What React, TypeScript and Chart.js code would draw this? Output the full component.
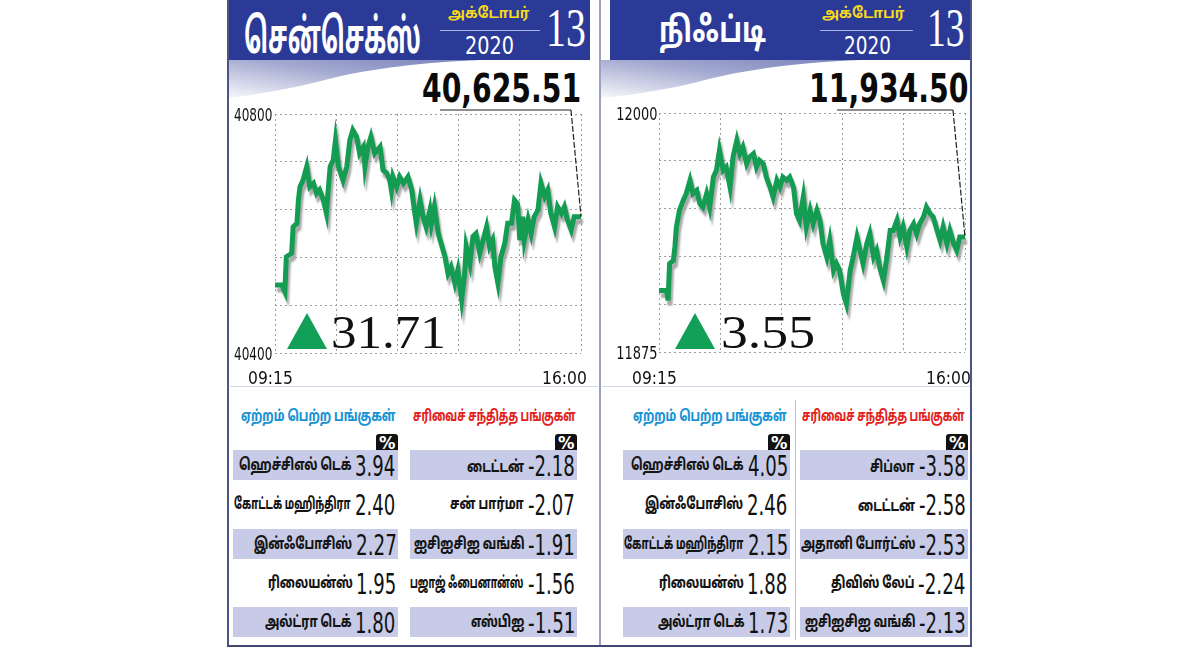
import React, { useEffect, useRef } from "react";
import { Chart, registerables } from "chart.js";
Chart.register(...registerables);

// ---------------- DATA ----------------
const sensexMinutes = [0, 9, 13, 15, 22, 24, 29, 31, 33, 37, 42, 46, 51, 55, 59, 64, 68, 70, 73, 77, 80, 84, 90, 95, 99, 103, 108, 112, 117, 119, 123, 127, 132, 139, 143, 148, 152, 154, 156, 161, 165, 170, 176, 181, 185, 187, 192, 196, 200, 205, 207, 211, 216, 220, 225, 229, 233, 238, 242, 247, 251, 253, 258, 262, 266, 271, 280, 284, 288, 291, 295, 299, 304, 308, 313, 317, 321, 324, 328, 330, 335, 339, 343, 348, 350, 352, 357, 361, 365, 370, 374, 379, 383, 387, 392, 396, 405];
const sensexValues = [40514, 40514, 40503, 40561, 40567, 40611, 40617, 40656, 40678, 40689, 40712, 40678, 40684, 40667, 40673, 40656, 40634, 40667, 40712, 40723, 40756, 40712, 40689, 40712, 40756, 40773, 40762, 40734, 40745, 40712, 40745, 40762, 40734, 40745, 40706, 40701, 40689, 40673, 40695, 40678, 40695, 40684, 40695, 40673, 40634, 40617, 40656, 40628, 40611, 40639, 40617, 40645, 40600, 40583, 40561, 40533, 40544, 40517, 40539, 40489, 40533, 40578, 40550, 40595, 40600, 40567, 40611, 40578, 40589, 40544, 40517, 40561, 40583, 40617, 40617, 40656, 40650, 40589, 40628, 40589, 40623, 40600, 40628, 40639, 40662, 40684, 40662, 40673, 40634, 40611, 40645, 40634, 40645, 40623, 40606, 40628, 40628];

const niftyMinutes = [0, 10, 12, 14, 19, 21, 23, 27, 32, 36, 41, 45, 50, 54, 58, 63, 67, 72, 76, 80, 85, 89, 94, 98, 103, 107, 111, 116, 120, 125, 129, 133, 138, 142, 147, 151, 156, 160, 164, 169, 173, 178, 182, 186, 191, 195, 200, 204, 209, 213, 217, 222, 226, 231, 235, 239, 244, 248, 253, 257, 262, 266, 270, 275, 279, 284, 288, 292, 297, 301, 306, 310, 315, 319, 323, 328, 332, 337, 341, 345, 350, 354, 359, 363, 368, 372, 376, 381, 385, 390, 394, 398, 405];
const niftyValues = [11907.2, 11907.2, 11902.0, 11921.2, 11922.9, 11929.9, 11940.4, 11949.1, 11954.3, 11957.8, 11964.8, 11957.8, 11959.5, 11952.6, 11950.8, 11957.8, 11950.8, 11966.5, 11970.0, 11980.5, 11970.0, 11971.7, 11961.3, 11977.0, 11985.7, 11978.7, 11982.2, 11973.5, 11977.0, 11978.7, 11971.7, 11975.2, 11973.5, 11966.5, 11961.3, 11956.1, 11964.8, 11961.3, 11966.5, 11964.8, 11966.5, 11961.3, 11947.3, 11943.9, 11956.1, 11940.4, 11949.1, 11942.1, 11949.1, 11943.9, 11931.7, 11924.7, 11933.4, 11917.7, 11921.2, 11917.7, 11905.5, 11900.3, 11917.7, 11924.7, 11935.1, 11928.2, 11921.2, 11931.7, 11936.9, 11924.7, 11928.2, 11919.4, 11912.5, 11922.9, 11938.6, 11938.6, 11943.9, 11935.1, 11940.4, 11929.9, 11938.6, 11942.1, 11936.9, 11942.1, 11945.6, 11950.8, 11947.3, 11945.6, 11938.6, 11933.4, 11940.4, 11931.7, 11938.6, 11931.7, 11928.2, 11935.1, 11935.1];

const sensexYTicks = [40800, 40400];
const niftyYTicks = [12000, 11875];
const timeLabels = ["09:15", "16:00"];

const sensexTitle = "சென்செக்ஸ்";
const niftyTitle = "நிஃப்டி";
const monthLabel = "அக்டோபர்";
const yearLabel = "2020";
const dayLabel = "13";
const sensexClose = "40,625.51";
const niftyClose = "11,934.50";
const sensexChange = "31.71";
const niftyChange = "3.55";

const gainersHeader = "ஏற்றம் பெற்ற பங்குகள்";
const losersHeader = "சரிவைச் சந்தித்த பங்குகள்";

const sensexGainerNames = ["ஹெச்சிஎல் டெக்", "கோட்டக் மஹிந்திரா", "இன்ஃபோசிஸ்", "ரிலையன்ஸ்", "அல்ட்ரா டெக்"];
const sensexGainerPct = ["3.94", "2.40", "2.27", "1.95", "1.80"];
const sensexLoserNames = ["டைட்டன்", "சன் பார்மா", "ஐசிஐசிஐ வங்கி", "பஜாஜ் ஃபைனான்ஸ்", "எஸ்பிஐ"];
const sensexLoserPct = ["-2.18", "-2.07", "-1.91", "-1.56", "-1.51"];

const niftyGainerNames = ["ஹெச்சிஎல் டெக்", "இன்ஃபோசிஸ்", "கோட்டக் மஹிந்திரா", "ரிலையன்ஸ்", "அல்ட்ரா டெக்"];
const niftyGainerPct = ["4.05", "2.46", "2.15", "1.88", "1.73"];
const niftyLoserNames = ["சிப்லா", "டைட்டன்", "அதானி போர்ட்ஸ்", "திவிஸ் லேப்", "ஐசிஐசிஐ வங்கி"];
const niftyLoserPct = ["-3.58", "-2.58", "-2.53", "-2.24", "-2.13"];

// ---------------- STYLE ----------------
const NARROW = '"Liberation Sans Narrow", "DejaVu Sans Condensed", "Liberation Sans", sans-serif';
const SERIF = '"Liberation Serif", "DejaVu Serif", serif';
const TAMIL = '"Noto Sans Tamil", "Lohit Tamil", "Noto Sans", "DejaVu Sans", sans-serif';
const HEADER_BLUE = "#2b3a97";
const GREEN = "#139c52";
const TRI_GREEN = "#12a058";
const ROW_BG = "#c7cbe8";

let _mc: CanvasRenderingContext2D | null = null;
function mctx() {
  if (!_mc) _mc = document.createElement("canvas").getContext("2d");
  return _mc!;
}
function metrics(text: string, font: string) {
  const c = mctx();
  c.font = font;
  return c.measureText(text);
}

type TxtProps = {
  text: string;
  family: string;
  weight?: string | number;
  color: string;
  top: number;
  bottom: number;
  x1: number;
  x2: number;
  align?: "left" | "right" | "center";
  fit?: boolean;
  size?: number;
  sx?: number;
};

function layoutTxt(p: TxtProps) {
  const weight = p.weight ?? "normal";
  let F = p.size ?? 0;
  if (!p.size) {
    const m0 = metrics(p.text, `${weight} 100px ${p.family}`);
    const h = m0.actualBoundingBoxAscent + m0.actualBoundingBoxDescent;
    F = ((p.bottom - p.top) / h) * 100;
  }
  const font = `${weight} ${F}px ${p.family}`;
  const m = metrics(p.text, font);
  const asc = m.actualBoundingBoxAscent;
  const desc = m.actualBoundingBoxDescent;
  const fa = m.fontBoundingBoxAscent;
  const fd = m.fontBoundingBoxDescent;
  const baseline = p.size ? (p.top + p.bottom) / 2 + (asc - desc) / 2 : p.top + asc;
  const inkL = m.actualBoundingBoxLeft;
  const inkR = m.actualBoundingBoxRight;
  const sx = p.fit ? (p.x2 - p.x1) / (inkL + inkR) : p.sx ?? 1;
  let left: number;
  const align = p.align ?? "left";
  if (p.fit) left = p.x1 + inkL * sx;
  else if (align === "right") left = p.x2 - inkR * sx;
  else if (align === "center") left = (p.x1 + p.x2) / 2 - ((inkR - inkL) / 2) * sx;
  else left = p.x1 + inkL * sx;
  return { F, weight, left, baseline, fa, fd, sx, inkWidth: (inkL + inkR) * sx, naturalInk: inkL + inkR };
}

function Txt(p: TxtProps) {
  const l = layoutTxt(p);
  return (
    <span
      style={{
        position: "absolute",
        left: l.left,
        top: l.baseline - l.fa,
        fontFamily: p.family,
        fontSize: l.F,
        fontWeight: l.weight as any,
        lineHeight: `${l.fa + l.fd}px`,
        height: l.fa + l.fd,
        color: p.color,
        whiteSpace: "pre",
        transform: `scaleX(${l.sx})`,
        transformOrigin: "0 0",
      }}
    >
      {p.text}
    </span>
  );
}

function drawFitText(ctx: CanvasRenderingContext2D, text: string, x1: number, x2: number, top: number, bottom: number, family: string, color: string) {
  ctx.save();
  ctx.font = `normal 100px ${family}`;
  let m = ctx.measureText(text);
  const F = ((bottom - top) / (m.actualBoundingBoxAscent + m.actualBoundingBoxDescent)) * 100;
  ctx.font = `normal ${F}px ${family}`;
  m = ctx.measureText(text);
  const sx = (x2 - x1) / (m.actualBoundingBoxLeft + m.actualBoundingBoxRight);
  ctx.translate(x1 + m.actualBoundingBoxLeft * sx, top + m.actualBoundingBoxAscent);
  ctx.scale(sx, 1);
  ctx.fillStyle = color;
  ctx.textAlign = "left";
  ctx.textBaseline = "alphabetic";
  ctx.fillText(text, 0, 0);
  ctx.restore();
}

type Box = { left: number; top: number; width: number; height: number };
type Area = { left: number; right: number; top: number; bottom: number };

function PriceChart(props: {
  minutes: number[];
  values: number[];
  yTicks: number[];
  yStep: number;
  box: Box;
  area: Area;
  yLabelX: [number, number];
  pointer: { x1: number; x2: number; y: number };
}) {
  const ref = useRef<HTMLCanvasElement>(null);
  useEffect(() => {
    const { minutes, values, yTicks, yStep, box, area, yLabelX, pointer } = props;
    const yMax = Math.max(...yTicks);
    const yMin = Math.min(...yTicks);
    const overlay = {
      id: "overlay",
      beforeDatasetsDraw(chart: any) {
        const ctx = chart.ctx as CanvasRenderingContext2D;
        ctx.save();
        ctx.shadowColor = "rgba(160,160,160,0.9)";
        ctx.shadowOffsetX = 2;
        ctx.shadowOffsetY = 5;
        ctx.shadowBlur = 2;
      },
      afterDatasetsDraw(chart: any) {
        chart.ctx.restore();
      },
      afterDraw(chart: any) {
        const ctx = chart.ctx as CanvasRenderingContext2D;
        const ys = chart.scales.y;
        const xs = chart.scales.x;
        yTicks.forEach((v) => {
          const g = ys.getPixelForValue(v);
          drawFitText(ctx, String(v), yLabelX[0] - box.left, yLabelX[1] - box.left, g - 6, g + 8, NARROW, "#111");
        });
        const xl = xs.getPixelForValue(xs.min);
        const xr = xs.getPixelForValue(xs.max);
        const lt = 371 - box.top;
        const lb = 384 - box.top;
        drawFitText(ctx, timeLabels[0], xl - 26, xl + 17, lt, lb, NARROW, "#111");
        drawFitText(ctx, timeLabels[1], xr - 38, xr + 5, lt, lb, NARROW, "#111");
        const meta = chart.getDatasetMeta(0);
        const last = meta.data[meta.data.length - 1];
        ctx.save();
        ctx.strokeStyle = "#222";
        ctx.lineWidth = 1.2;
        ctx.beginPath();
        ctx.moveTo(pointer.x1 - box.left, pointer.y - box.top);
        ctx.lineTo(pointer.x2 - box.left, pointer.y - box.top);
        ctx.stroke();
        ctx.setLineDash([6, 2]);
        ctx.beginPath();
        ctx.moveTo(pointer.x2 - box.left, pointer.y - box.top);
        ctx.lineTo(last.x, last.y);
        ctx.stroke();
        ctx.restore();
      },
    };
    const gridOpts = { color: "#9c9c9c", lineWidth: 1, drawTicks: false };
    const borderOpts = { display: false, dash: [2, 3] };
    const chart = new Chart(ref.current!, {
      type: "line",
      data: {
        datasets: [
          {
            data: minutes.map((m, i) => ({ x: m, y: values[i] })),
            borderColor: GREEN,
            borderWidth: 5,
            pointRadius: 0,
            tension: 0,
            borderJoinStyle: "miter",
            borderCapStyle: "butt",
            clip: false as any,
          },
        ],
      },
      options: {
        animation: false,
        responsive: false,
        maintainAspectRatio: false,
        events: [],
        layout: {
          padding: {
            left: area.left - box.left,
            top: area.top - box.top,
            right: box.left + box.width - area.right,
            bottom: box.top + box.height - area.bottom,
          },
        },
        plugins: { legend: { display: false }, tooltip: { enabled: false } },
        scales: {
          x: {
            type: "linear",
            min: 0,
            max: 405,
            ticks: { display: false, stepSize: 81 },
            grid: gridOpts,
            border: borderOpts,
          },
          y: {
            type: "linear",
            min: yMin,
            max: yMax,
            ticks: { display: false, stepSize: yStep },
            grid: gridOpts,
            border: borderOpts,
          },
        },
      },
      plugins: [overlay as any],
    });
    return () => chart.destroy();
  }, []);
  const b = props.box;
  return (
    <canvas
      ref={ref}
      width={b.width}
      height={b.height}
      style={{ position: "absolute", left: b.left, top: b.top, width: b.width, height: b.height }}
    />
  );
}

function abs(left: number, top: number, width: number, height: number, extra: any = {}) {
  return { position: "absolute" as const, left, top, width, height, ...extra };
}

function Header(p: { x1: number; x2: number; title: string; titleX: [number, number]; monthX: [number, number]; lineX: [number, number]; yearX: [number, number]; dayX: [number, number]; swoosh: string; gid: string }) {
  return (
    <>
      <div style={abs(p.x1, 0, p.x2 - p.x1, 60, { background: HEADER_BLUE })} />
      <svg style={abs(0, 0, 1200, 120)} width={1200} height={120}>
        <defs>
          <linearGradient id={p.gid} x1="0" y1="1" x2="1" y2="0">
            <stop offset="0" stopColor="#f6f7fb" />
            <stop offset="0.55" stopColor="#a3a9d0" />
            <stop offset="1" stopColor="#7a83bb" />
          </linearGradient>
        </defs>
        <path d={p.swoosh} fill={`url(#${p.gid})`} />
      </svg>
      <Txt text={p.title} family={TAMIL} weight="bold" color="#fff" top={12} bottom={53} x1={p.titleX[0]} x2={p.titleX[1]} fit />
      <Txt text={monthLabel} family={TAMIL} weight="bold" color="#f8da1c" top={5} bottom={21} x1={p.monthX[0]} x2={p.monthX[1]} fit />
      <div style={abs(p.lineX[0], 30, p.lineX[1] - p.lineX[0], 1, { background: "#a9b6e6" })} />
      <Txt text={yearLabel} family={NARROW} color="#fff" top={36} bottom={55} x1={p.yearX[0]} x2={p.yearX[1]} fit />
      <Txt text={dayLabel} family={SERIF} color="#fff" top={10} bottom={47} x1={p.dayX[0]} x2={p.dayX[1]} fit />
    </>
  );
}

function Change(p: { tri: [number, number]; text: string; textX: [number, number] }) {
  return (
    <>
      <div
        style={abs(p.tri[0], 313, p.tri[1] - p.tri[0], 36, {
          background: TRI_GREEN,
          clipPath: "polygon(50% 0, 100% 100%, 0 100%)",
        })}
      />
      <Txt text={p.text} family={SERIF} color="#111" top={317} bottom={349} x1={p.textX[0]} x2={p.textX[1]} fit />
    </>
  );
}

const ROW_TOPS = [450, 489, 529, 568, 607];
const ROW_H = 30;

function Column(p: { x1: number; x2: number; header: string; headerColor: string; headerX: [number, number]; names: string[]; pct: string[] }) {
  const items: any[] = [];
  items.push(
    <Txt key="h" text={p.header} family={TAMIL} weight={800} color={p.headerColor} top={408} bottom={426} x1={p.headerX[0]} x2={p.headerX[1]} fit />
  );
  items.push(
    <div key="pb" style={abs(p.x2 - 22, 434, 22, 16, { background: "#111", borderRadius: "3px 3px 0 0" })} />
  );
  items.push(
    <Txt key="pt" text="%" family={NARROW} weight="bold" color="#fff" top={436} bottom={449} x1={p.x2 - 19} x2={p.x2 - 3} fit />
  );
  const refL = layoutTxt({ text: "0.00", family: NARROW, color: "#000", top: 0, bottom: 21, x1: 0, x2: 39, fit: true });
  p.names.forEach((name, i) => {
    const top = ROW_TOPS[i];
    if (i % 2 === 0) items.push(<div key={"bg" + i} style={abs(p.x1, top, p.x2 - p.x1, ROW_H, { background: ROW_BG })} />);
    const vt: TxtProps = { text: p.pct[i], family: NARROW, color: "#111", top: top + 5, bottom: top + 26, x1: p.x1, x2: p.x2 - 3, align: "right", sx: refL.sx };
    const vl = layoutTxt(vt);
    items.push(<Txt key={"v" + i} {...vt} />);
    const valueLeft = p.x2 - 3 - vl.inkWidth;
    const nt: TxtProps = { text: name, family: TAMIL, weight: 800, color: "#151515", size: 16, top: top + 4, bottom: top + 26, x1: p.x1, x2: valueLeft - 5, align: "right", sx: 1 };
    const natural = layoutTxt(nt).naturalInk;
    const avail = valueLeft - 5 - (p.x1 + 1);
    nt.sx = Math.min(0.72, avail / natural);
    items.push(<Txt key={"n" + i} {...nt} />);
  });
  return <>{items}</>;
}

export default function App() {
  return (
    <div style={{ position: "fixed", left: 0, top: 0, width: 1200, height: 654, background: "#fff", overflow: "hidden" }}>
      <div style={abs(227, 0, 2, 647, { background: "#4d5584" })} />
      <div style={abs(970, 0, 2, 647, { background: "#4d5584" })} />
      <div style={abs(227, 645, 745, 2, { background: "#3f4670" })} />
      <div style={abs(599, 0, 2, 645, { background: "#9aa1c4" })} />
      <div style={abs(795, 400, 1, 240, { background: "#c4c4c4" })} />
      <div style={abs(230, 386, 368, 1, { background: "#d3d6e8" })} />
      <div style={abs(602, 386, 368, 1, { background: "#d3d6e8" })} />

      <Header
        x1={229}
        x2={590}
        title={sensexTitle}
        titleX={[245, 420]}
        monthX={[448, 530]}
        lineX={[440, 540]}
        yearX={[466, 513]}
        dayX={[549, 585]}
        gid="sw1"
        swoosh="M229,60 L480,60 C430,62 370,68 325,80 C295,88 262,94 229,98 Z"
      />
      <Header
        x1={610}
        x2={970}
        title={niftyTitle}
        titleX={[660, 766]}
        monthX={[822, 905]}
        lineX={[820, 913]}
        yearX={[845, 890]}
        dayX={[930, 964]}
        gid="sw2"
        swoosh="M601,60 L860,60 C810,62 750,68 705,80 C675,88 640,94 601,98 Z"
      />

      <Txt text={sensexClose} family={NARROW} weight="bold" color="#0a0a0a" top={72} bottom={107} x1={423} x2={580} fit />
      <Txt text={niftyClose} family={NARROW} weight="bold" color="#0a0a0a" top={72} bottom={107} x1={812} x2={967} fit />

      <PriceChart
        minutes={sensexMinutes}
        values={sensexValues}
        yTicks={sensexYTicks}
        yStep={80}
        box={{ left: 229, top: 96, width: 370, height: 296 }}
        area={{ left: 275, right: 581, top: 114, bottom: 353 }}
        yLabelX={[234, 272]}
        pointer={{ x1: 440, x2: 571, y: 110 }}
      />
      <PriceChart
        minutes={niftyMinutes}
        values={niftyValues}
        yTicks={niftyYTicks}
        yStep={25}
        box={{ left: 601, top: 96, width: 369, height: 296 }}
        area={{ left: 659, right: 965, top: 113, bottom: 352 }}
        yLabelX={[617, 657]}
        pointer={{ x1: 837, x2: 953, y: 110 }}
      />

      <Change tri={[287, 327]} text={sensexChange} textX={[333, 443]} />
      <Change tri={[675, 715]} text={niftyChange} textX={[723, 813]} />

      <Column x1={233} x2={398} header={gainersHeader} headerColor="#1a93d4" headerX={[241, 396]} names={sensexGainerNames} pct={sensexGainerPct} />
      <Column x1={410} x2={577} header={losersHeader} headerColor="#e2231c" headerX={[413, 576]} names={sensexLoserNames} pct={sensexLoserPct} />
      <Column x1={623} x2={790} header={gainersHeader} headerColor="#1a93d4" headerX={[633, 787]} names={niftyGainerNames} pct={niftyGainerPct} />
      <Column x1={800} x2={968} header={losersHeader} headerColor="#e2231c" headerX={[802, 965]} names={niftyLoserNames} pct={niftyLoserPct} />
    </div>
  );
}
